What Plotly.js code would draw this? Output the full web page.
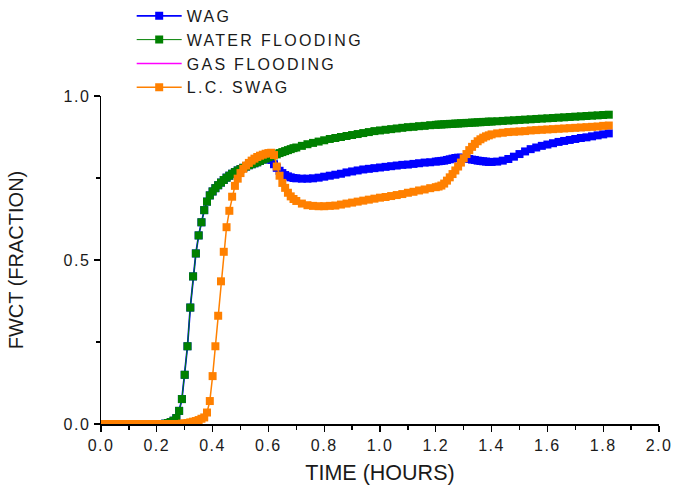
<!DOCTYPE html>
<html>
<head>
<meta charset="utf-8">
<script src="https://cdn.plot.ly/plotly-3.0.1.min.js"></script>
<style>
  html, body { margin: 0; padding: 0; background: #ffffff; }
  #chart { width: 679px; height: 490px; }
  .legendtext { letter-spacing: 2.3px; }
  .xtick text, .ytick text { letter-spacing: 1.5px; }
</style>
</head>
<body>
<div id="chart"></div>
<script>
// Time (hours)
const TIME = [
  0, 0.02, 0.04, 0.06, 0.08, 0.10, 0.12, 0.14, 0.16, 0.18,
  0.20, 0.21, 0.22, 0.23, 0.24, 0.25, 0.26, 0.27, 0.28, 0.29,
  0.30, 0.31, 0.32, 0.33, 0.34, 0.35, 0.36, 0.37, 0.38, 0.39,
  0.40, 0.41, 0.42, 0.43, 0.44, 0.45, 0.46, 0.47, 0.48, 0.49,
  0.50, 0.51, 0.52, 0.53, 0.54, 0.55, 0.56, 0.57, 0.58, 0.59,
  0.60, 0.61, 0.62, 0.63, 0.64, 0.65, 0.66, 0.67, 0.68, 0.69,
  0.70, 0.72, 0.74, 0.76, 0.78, 0.80, 0.82, 0.84, 0.86, 0.88,
  0.90, 0.92, 0.94, 0.96, 0.98, 1.00, 1.02, 1.04, 1.06, 1.08,
  1.10, 1.12, 1.14, 1.16, 1.18,
  1.20, 1.21, 1.22, 1.23, 1.24, 1.25, 1.26, 1.27, 1.28, 1.29,
  1.30, 1.31, 1.32, 1.33, 1.34, 1.35, 1.36, 1.37, 1.38, 1.39, 1.40,
  1.42, 1.44, 1.46, 1.48, 1.50, 1.52, 1.54, 1.56, 1.58, 1.60,
  1.62, 1.64, 1.66, 1.68, 1.70, 1.72, 1.74, 1.76, 1.78, 1.80, 1.82
];

const WATER_FLOODING = [
  0, 0, 0, 0, 0, 0, 0, 0, 0, 0,
  0, 0, 0, 0.001, 0.003, 0.006, 0.010, 0.018, 0.040, 0.076,
  0.150, 0.237, 0.355, 0.450, 0.520, 0.575, 0.615, 0.652, 0.678, 0.697,
  0.709, 0.719, 0.728, 0.736, 0.744, 0.751, 0.757, 0.763, 0.768, 0.773,
  0.777, 0.781, 0.785, 0.789, 0.792, 0.795, 0.798, 0.802, 0.806, 0.809,
  0.813, 0.816, 0.819, 0.822, 0.826, 0.829, 0.832, 0.835, 0.838, 0.841,
  0.843, 0.848, 0.853, 0.857, 0.861, 0.865, 0.869, 0.872, 0.875, 0.878,
  0.881, 0.884, 0.887, 0.890, 0.893, 0.895, 0.897, 0.899, 0.901, 0.903,
  0.905, 0.906, 0.908, 0.909, 0.911,
  0.912, 0.913, 0.913, 0.914, 0.914, 0.915, 0.915, 0.916, 0.916, 0.917,
  0.917, 0.918, 0.918, 0.919, 0.919, 0.920, 0.920, 0.921, 0.921, 0.922, 0.922,
  0.923, 0.924, 0.925, 0.926, 0.927, 0.928, 0.929, 0.930, 0.931, 0.932,
  0.933, 0.934, 0.935, 0.936, 0.937, 0.938, 0.939, 0.940, 0.941, 0.942, 0.943
];

const WAG = [
  0, 0, 0, 0, 0, 0, 0, 0, 0, 0,
  0, 0, 0, 0.001, 0.003, 0.006, 0.010, 0.018, 0.040, 0.076,
  0.150, 0.237, 0.355, 0.450, 0.520, 0.575, 0.615, 0.652, 0.678, 0.697,
  0.709, 0.719, 0.728, 0.736, 0.744, 0.751, 0.757, 0.763, 0.768, 0.773,
  0.777, 0.781, 0.785, 0.789, 0.792, 0.795, 0.798, 0.802, 0.806, 0.809,
  0.813, 0.805, 0.792, 0.781, 0.772, 0.765, 0.759, 0.755, 0.752, 0.750,
  0.749, 0.748, 0.748, 0.749, 0.751, 0.754, 0.757, 0.760, 0.763, 0.767,
  0.770, 0.773, 0.776, 0.778, 0.780, 0.782, 0.784, 0.786, 0.788, 0.790,
  0.791, 0.793, 0.795, 0.797, 0.798,
  0.800, 0.801, 0.802, 0.803, 0.805, 0.807, 0.809, 0.811, 0.812, 0.812,
  0.811, 0.810, 0.808, 0.806, 0.805, 0.803, 0.802, 0.801, 0.800, 0.799, 0.799,
  0.800, 0.803, 0.808, 0.815, 0.823, 0.831, 0.838, 0.843, 0.848, 0.852,
  0.856, 0.860, 0.863, 0.866, 0.869, 0.872, 0.874, 0.877, 0.880, 0.883, 0.886
];

// Gas flooding has no visible curve in the chart, only a legend entry
const GAS_TIME = [null];
const GAS_FLOODING = [null];

const LC_SWAG = [
  0, 0, 0, 0, 0, 0, 0, 0, 0, 0,
  0, 0, 0, 0, 0, 0, 0, 0, 0, 0.001,
  0.002, 0.003, 0.005, 0.007, 0.009, 0.012, 0.016, 0.020, 0.035, 0.070,
  0.146, 0.237, 0.330, 0.435, 0.525, 0.600, 0.650, 0.693, 0.726, 0.748,
  0.765, 0.778, 0.788, 0.796, 0.803, 0.809, 0.814, 0.818, 0.821, 0.824,
  0.826, 0.827, 0.820, 0.785, 0.757, 0.735, 0.720, 0.705, 0.694, 0.686,
  0.680, 0.672, 0.667, 0.665, 0.664, 0.664, 0.665, 0.666, 0.669, 0.672,
  0.675, 0.678, 0.681, 0.684, 0.687, 0.690, 0.692, 0.695, 0.698, 0.701,
  0.705, 0.708, 0.712, 0.715, 0.719,
  0.722, 0.724, 0.727, 0.733, 0.742, 0.752, 0.762, 0.773, 0.785, 0.797,
  0.810, 0.823, 0.835, 0.845, 0.854, 0.862, 0.868, 0.873, 0.877, 0.880, 0.883,
  0.886, 0.888, 0.890, 0.891, 0.892, 0.893, 0.895, 0.896, 0.897, 0.898,
  0.899, 0.900, 0.901, 0.902, 0.903, 0.904, 0.905, 0.906, 0.907, 0.909, 0.910
];

const X_TICKS = [0, 0.2, 0.4, 0.6, 0.8, 1.0, 1.2, 1.4, 1.6, 1.8, 2.0];
const Y_TICKS = [0, 0.5, 1.0];

const FONT = 'Liberation Sans, Arial, sans-serif';
const TXT = '#1a1a1a';

const traces = [
  {
    name: 'WAG', x: TIME, y: WAG, type: 'scatter', mode: 'lines+markers',
    line: {color: '#0000ff', width: 1.8},
    marker: {symbol: 'square', size: 8, color: '#0000ff', line: {width: 0}}
  },
  {
    name: 'WATER FLOODING', x: TIME, y: WATER_FLOODING, type: 'scatter', mode: 'lines+markers',
    line: {color: '#008000', width: 1},
    marker: {symbol: 'square', size: 8, color: '#008000', line: {width: 0}}
  },
  {
    name: 'GAS FLOODING', x: GAS_TIME, y: GAS_FLOODING, type: 'scatter', mode: 'lines',
    line: {color: '#ff00ff', width: 1.5}
  },
  {
    name: 'L.C. SWAG', x: TIME, y: LC_SWAG, type: 'scatter', mode: 'lines+markers',
    line: {color: '#ff8000', width: 1.5},
    marker: {symbol: 'square', size: 8, color: '#ff8000', line: {width: 0}}
  }
];

const layout = {
  width: 679, height: 490,
  margin: {l: 101, r: 20, t: 96, b: 66, autoexpand: false},
  paper_bgcolor: '#ffffff', plot_bgcolor: '#ffffff',
  font: {family: FONT, color: TXT, size: 16},
  showlegend: true,
  legend: {
    x: 0.055, y: 1.296, xanchor: 'left', yanchor: 'top',
    bgcolor: 'rgba(0,0,0,0)', borderwidth: 0,
    font: {family: FONT, size: 16, color: TXT},
    itemwidth: 45, tracegroupgap: 0
  },
  xaxis: {
    range: [0, 2.0], tickvals: X_TICKS, tickformat: '.1f',
    ticks: 'outside', ticklen: 6, tickwidth: 1.3, tickcolor: '#000',
    minor: {dtick: 0.1, ticks: 'outside', ticklen: 4, tickwidth: 1.3, tickcolor: '#000', showgrid: false},
    showline: true, linecolor: '#000', linewidth: 1.5,
    showgrid: false, zeroline: false, automargin: false,
    tickfont: {family: FONT, size: 16, color: TXT},
    title: {text: 'TIME (HOURS)', font: {family: FONT, size: 21.5, color: TXT}, standoff: 12}
  },
  yaxis: {
    range: [0, 1.0], tickvals: Y_TICKS, tickformat: '.1f',
    ticks: 'outside', ticklen: 6, tickwidth: 1.3, tickcolor: '#000',
    minor: {tickvals: [0.25, 0.75], ticks: 'outside', ticklen: 4, tickwidth: 1.3, tickcolor: '#000', showgrid: false},
    showline: true, linecolor: '#000', linewidth: 1.5,
    showgrid: false, zeroline: false, automargin: false,
    tickfont: {family: FONT, size: 16, color: TXT},
    title: {text: 'FWCT (FRACTION)', font: {family: FONT, size: 20, color: TXT}, standoff: 34}
  }
};

Plotly.newPlot('chart', traces, layout, {displayModeBar: false, staticPlot: true});
</script>
</body>
</html>
